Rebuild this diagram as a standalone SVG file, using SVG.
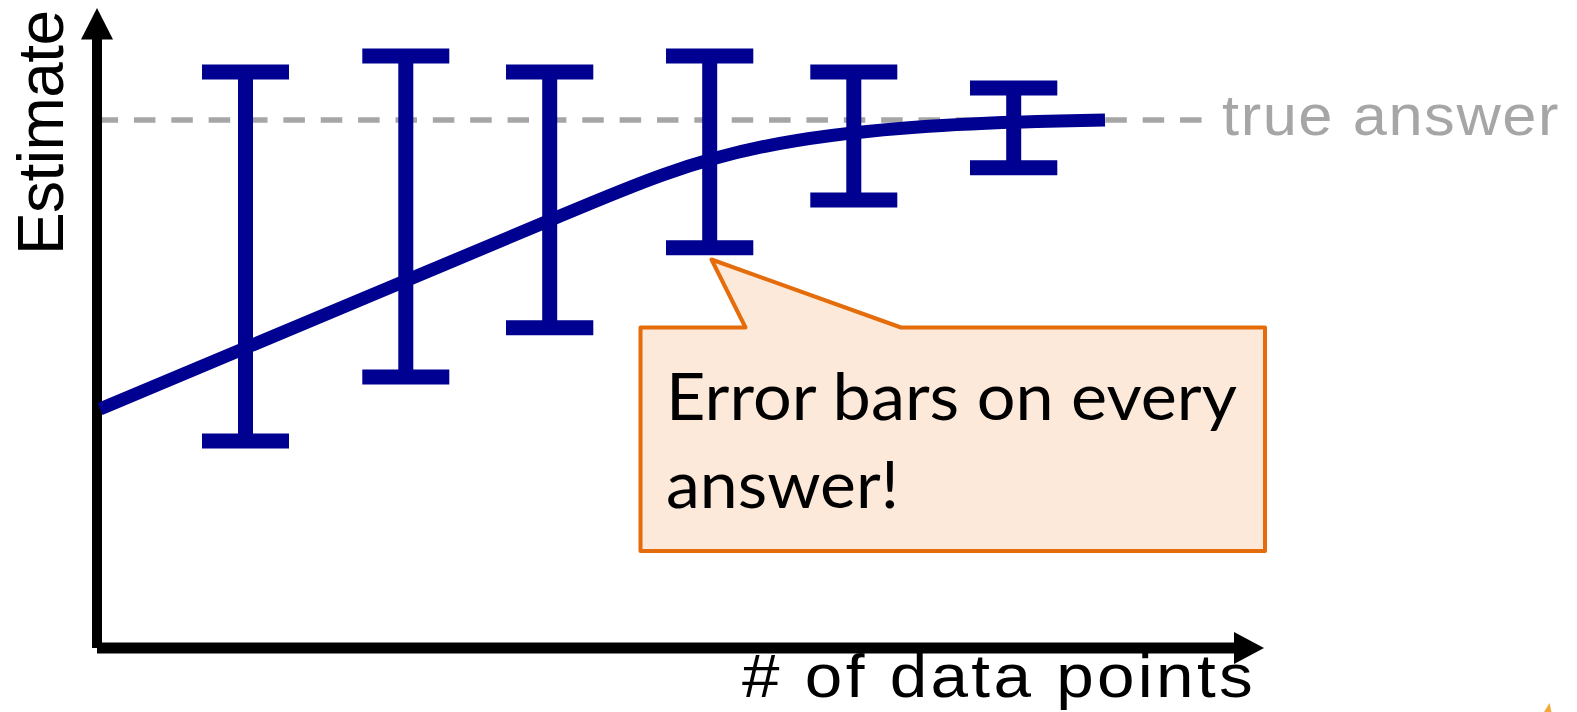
<svg xmlns="http://www.w3.org/2000/svg" width="1577" height="712" viewBox="0 0 1577 712">
  <style>
    .bar { stroke: #000091; stroke-width: 15; stroke-linecap: butt; fill: none; }
    .curve { stroke: #000091; stroke-width: 13; fill: none; stroke-linecap: butt; }
    .axis { stroke: #000; fill: none; }
    .ref { stroke: #a6a6a6; stroke-width: 5.5; stroke-dasharray: 21.5 15.86; fill: none; }
    .label { font-family: "Liberation Sans", Arial, sans-serif; fill: #000; }
    .ref-label { font-family: "Liberation Sans", Arial, sans-serif; fill: #a6a6a6; }
    .note { font-family: Lato, "Open Sans", sans-serif; fill: #000; }
    .bubble { fill: #fde9d9; stroke: #e46c0a; stroke-width: 4; stroke-linejoin: round; }
  </style>

  <rect width="1577" height="712" fill="#fff"/>

  <!-- reference level -->
  <g id="true-answer">
    <line class="ref" x1="96.6" y1="120" x2="1202" y2="120"/>
    <text class="ref-label" x="1222" y="135" font-size="58" letter-spacing="1.5" textLength="338" lengthAdjust="spacingAndGlyphs">true answer</text>
  </g>

  <!-- axes -->
  <g id="axes">
    <line class="axis" x1="97" y1="648" x2="97" y2="39" stroke-width="10"/>
    <polygon points="81,39.5 113,39.5 97,8" fill="#000"/>
    <line class="axis" x1="97" y1="648" x2="1234" y2="648" stroke-width="11"/>
    <polygon points="1234,632 1234,664 1264,648" fill="#000"/>
    <text class="label" transform="translate(63,255) rotate(-90)" font-size="64" textLength="245" lengthAdjust="spacing">Estimate</text>
    <text class="label" x="742" y="697" font-size="61" letter-spacing="3" textLength="514" lengthAdjust="spacingAndGlyphs"># of data points</text>
  </g>

  <!-- estimate curve -->
  <g id="connectors">
    <path class="curve" d="M100,409 L560,216 C710,153 775,125 1105,120"/>
  </g>

  <!-- error bars -->
  <g id="bar-1">
    <path class="bar" d="M202,72 H289 M245.5,72 V441 M202,441 H289"/>
  </g>
  <g id="bar-2">
    <path class="bar" d="M362.3,56 H449.3 M405.8,56 V377 M362.3,377 H449.3"/>
  </g>
  <g id="bar-3">
    <path class="bar" d="M506,72 H593.3 M549.7,72 V327.7 M506,327.7 H593.3"/>
  </g>
  <g id="bar-4">
    <path class="bar" d="M666,56 H753.3 M709.7,56 V247.7 M666,247.7 H753.3"/>
  </g>
  <g id="bar-5">
    <path class="bar" d="M810.3,72 H897.3 M853.8,72 V200 M810.3,200 H897.3"/>
  </g>
  <g id="bar-6">
    <path class="bar" d="M970,88 H1057.3 M1013.7,88 V167.7 M970,167.7 H1057.3"/>
  </g>

  <!-- callout -->
  <g id="callout">
    <path class="bubble" d="M640.5,327.5 H745.5 L711.5,259.5 L901,327.5 H1265 V551 H640.5 Z"/>
    <text class="note" x="666" y="420" font-size="66" textLength="571" lengthAdjust="spacingAndGlyphs">Error bars on every</text>
    <text class="note" x="666" y="508" font-size="66" textLength="233" lengthAdjust="spacingAndGlyphs">answer!</text>
  </g>

  <!-- corner mark -->
  <polygon points="1544,712 1549.5,703 1551.5,712" fill="#f2a93b"/>
</svg>
